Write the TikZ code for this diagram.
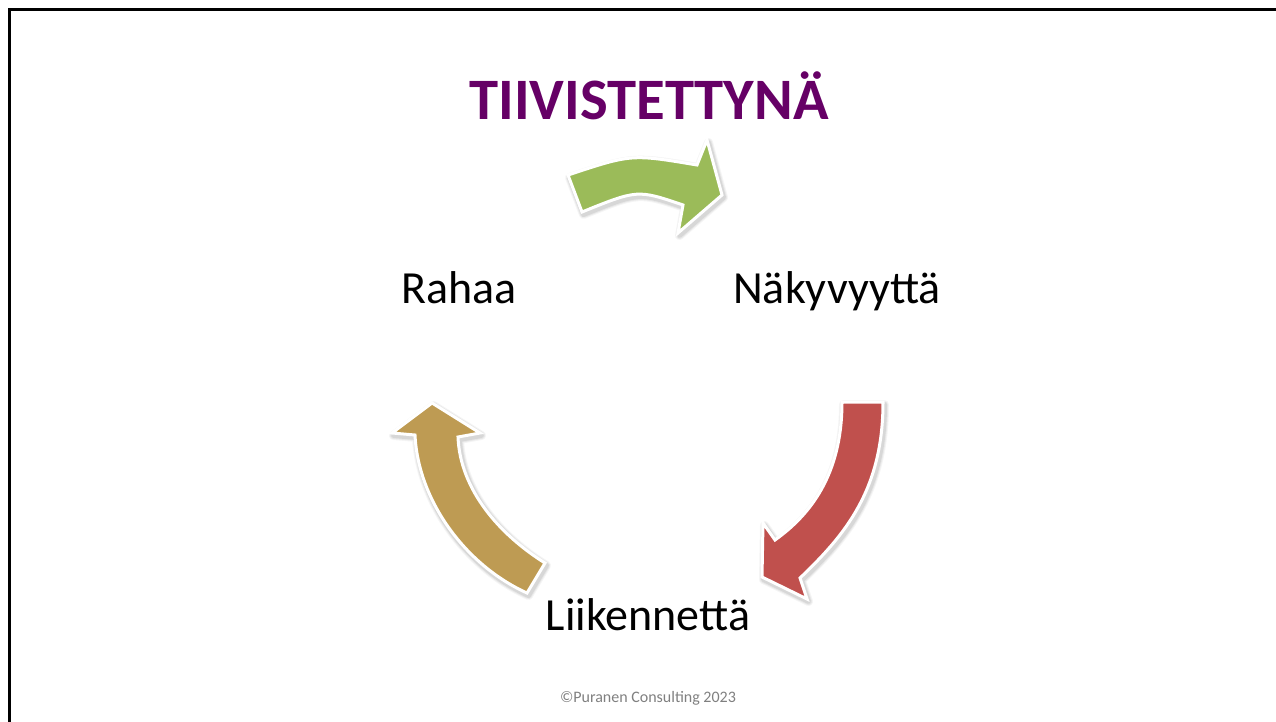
\documentclass[tikz,border=0pt]{standalone}
\usepackage{fontspec}
\setmainfont{Carlito}
\definecolor{titlepurple}{RGB}{102,0,102}
\definecolor{agreen}{RGB}{155,187,89}
\definecolor{ared}{RGB}{192,80,77}
\definecolor{agold}{RGB}{190,155,83}
\definecolor{footgray}{RGB}{128,128,128}
\begin{document}
\begin{tikzpicture}[x=1pt,y=-1pt,
  blockarrow/.style={draw=white,line width=3pt,line join=miter},
  softshadow/.style={draw=black,line join=round,fill=black,fill opacity=0.1},
  label/.style={font=\fontsize{46}{50}\selectfont,anchor=base,inner sep=0pt}]
\useasboundingbox[fill=white] (0,0) rectangle (1276,722);
\draw[line width=3pt] (9.5,722) -- (9.5,10) -- (1276,10);
% title
\node[font=\fontsize{58.7}{64}\selectfont\bfseries,text=titlepurple,anchor=base,inner sep=0pt] (title) at (649,120) {TIIVISTETTYNÄ};
% labels
\node[label] (rahaa) at (459,303) {Rahaa};
\node[label] (nak) at (837,303) {Näkyvyyttä};
\node[label] (liik) at (648,630) {Liikennettä};
\node[font=\fontsize{16}{19}\selectfont,text=footgray,anchor=base,inner sep=0pt] (foot) at (648,702) {©Puranen Consulting 2023};
% arrow outlines
\def\greenpath{(568,175) .. controls (631.5,154) .. (697,165) -- (707,140) -- (722,195) -- (678,233) -- (683,205) .. controls (637.5,189.5) .. (582,212) -- cycle}
\def\redpath{(842,402) -- (883,402) .. controls (883,490) and (845,535) .. (800,578) -- (807,599) -- (762,577) -- (763,523) -- (775,540) .. controls (810,515) and (842,475) .. (842,402) -- cycle}
\def\goldpath{(432,403) -- (480,433) -- (458,437) .. controls (460,490) and (500,535) .. (545,563) -- (527,593) .. controls (465,565) and (418,500) .. (415,435) -- (392,433) -- cycle}
% soft shadows
\begin{scope}[shift={(1.5,2.5)}]
\foreach \w/\o in {9/0.04,7/0.05,5/0.07}{
  \draw[black,line join=round,line width=\w pt,opacity=\o] \greenpath;
  \draw[black,line join=round,line width=\w pt,opacity=\o] \redpath;
  \draw[black,line join=round,line width=\w pt,opacity=\o] \goldpath;
}
\end{scope}
\filldraw[blockarrow,fill=agreen] \greenpath;
\filldraw[blockarrow,fill=ared] \redpath;
\filldraw[blockarrow,fill=agold] \goldpath;
\end{tikzpicture}
\end{document}
